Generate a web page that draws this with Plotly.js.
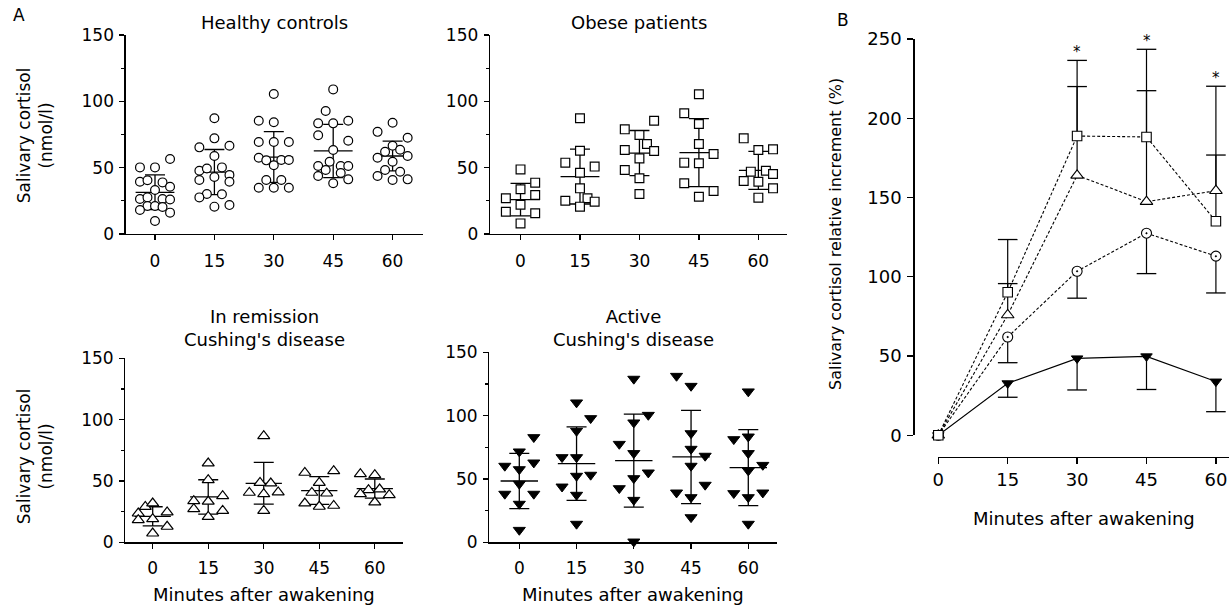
<!DOCTYPE html>
<html><head><meta charset="utf-8">
<script src="https://cdn.plot.ly/plotly-3.0.1.min.js"></script>
<style>html,body{margin:0;padding:0;background:#fff;}#chart{width:1229px;height:613px;}</style>
</head><body><div id="chart"></div>
<script>
// ---------- DATA ----------
const minutes = [0, 15, 30, 45, 60];
const minuteLabels = ['0', '15', '30', '45', '60'];
const yTicksA = [0, 50, 100, 150];
const yTicksB = [0, 50, 100, 150, 200, 250];

// Panel A – individual salivary cortisol values (nmol/l), one list per time point,
// with the column offset (minutes) each dot is drawn at.
const healthyVal = [
  [50.2, 50.2, 56.5, 39.4, 40.5, 38.9, 35.6, 33.2, 26.4, 27.6, 26.4, 26.0, 21.1, 21.1, 20.4, 18.1, 16.1, 9.8],
  [87.2, 72.1, 65.3, 66.5, 58.8, 47.7, 49.4, 50.2, 44.5, 40.7, 39.4, 43.0, 30.1, 29.9, 27.6, 20.6, 21.8],
  [105.5, 85.4, 84.2, 69.3, 69.3, 69.3, 57.5, 55.5, 55.8, 55.8, 51.8, 40.7, 40.7, 34.9, 34.9, 34.9],
  [109.0, 92.7, 83.4, 83.4, 85.4, 74.4, 70.3, 63.3, 54.5, 51.2, 48.2, 51.2, 51.2, 43.7, 46.0, 41.2, 38.2],
  [83.9, 77.0, 72.6, 66.5, 62.0, 63.5, 57.5, 58.8, 54.5, 48.2, 46.9, 43.7, 40.7, 41.2]
];
const healthyOff = [
  [-3.8, 0, 3.8, -3.8, -1.9, 1.9, 3.8, 0, -3.8, -1.9, 1.9, 3.8, -1.9, 0, 1.9, -3.8, 3.8, 0],
  [0, 0, -3.8, 3.8, 0, -3.8, -1.9, 1.9, 3.8, -3.8, 3.8, 0, -1.9, 1.9, -3.8, 0, 3.8],
  [0, -3.8, 0, -3.8, 0, 3.8, -3.8, -1.9, 1.9, 3.8, 0, -1.9, 1.9, -3.8, 0, 3.8],
  [0, -1.9, -3.8, 0, 3.8, -3.8, 3.8, 0, -0.9, -3.8, -1.9, 1.9, 3.8, -3.8, 1.9, 3.8, 0],
  [0, -3.8, 3.8, 0, -1.9, 1.9, -3.8, 3.8, 0, -1.9, 1.9, -3.8, 0, 3.8]
];
const healthyMean = [31.4, 46.7, 58.0, 62.6, 58.8];
const healthySD = [13.1, 17.0, 19.1, 20.1, 11.2];

const obeseVal = [
  [48.7, 38.7, 33.7, 26.9, 29.4, 22.1, 16.8, 15.6, 8.0],
  [87.2, 62.8, 53.8, 50.8, 46.2, 34.4, 25.1, 26.9, 24.4, 20.6],
  [85.4, 78.9, 74.6, 67.8, 63.3, 62.6, 57.0, 48.2, 42.0, 30.2],
  [105.3, 91.0, 82.9, 67.8, 60.3, 53.8, 53.3, 38.2, 32.4, 28.1],
  [72.1, 63.3, 63.8, 47.0, 47.7, 45.2, 40.0, 39.4, 34.4, 27.4]
];
const obeseOff = [
  [0, 3.7, 0, -3.7, 3.7, 0, -3.7, 3.7, 0],
  [0, 0, -3.7, 3.7, 0, 0, -3.7, 1.9, 3.7, 0],
  [3.7, -3.7, 0, 1.9, -3.7, 3.7, 0, -3.7, 0, 0],
  [0, -3.7, 0, 0, 3.7, -3.7, 0, -3.7, 3.7, 0],
  [-3.7, 0, 3.7, -1.9, 1.9, 3.7, -3.7, 0, 3.7, 0]
];
const obeseMean = [25.9, 43.3, 61.0, 61.3, 48.0];
const obeseSD = [12.3, 20.7, 17.0, 25.6, 14.3];

const remissionVal = [
  [29.0, 31.8, 23.6, 24.5, 18.2, 19.0, 12.8, 7.3],
  [64.4, 50.8, 33.7, 33.2, 37.8, 27.2, 25.8, 20.9],
  [86.7, 48.6, 48.1, 40.5, 39.4, 40.8, 25.8],
  [56.8, 58.2, 48.6, 40.5, 39.9, 31.8, 29.1, 29.9],
  [55.7, 54.9, 42.7, 43.2, 39.4, 38.6, 32.6]
];
const remissionOff = [
  [-2, 0, -3.9, 3.9, -3.9, 0, 3.9, 0],
  [0, 0, -3.9, 0, 3.9, -3.9, 3.9, 0],
  [0, -1, 1.9, -3.9, 0, 3.9, 0],
  [-3.9, 3.9, 0, -2, 2, -3.9, 0, 3.9],
  [-3.9, 0, -1.7, 1.3, -3.9, 3.9, 0]
];
const remissionMean = [21.2, 37.0, 48.1, 42.2, 43.8];
const remissionSD = [7.8, 14.0, 17.0, 11.3, 7.8];

const activeVal = [
  [82.9, 71.6, 60.3, 57.6, 62.9, 46.1, 38.2, 38.2, 30.3, 9.7],
  [110.3, 97.9, 87.9, 67.1, 67.1, 52.4, 43.9, 53.2, 37.4, 14.5],
  [129.0, 100.5, 94.5, 77.6, 70.3, 55.0, 50.5, 42.6, 33.4, 0.5],
  [131.3, 123.4, 86.0, 73.7, 68.2, 60.3, 39.2, 35.5, 45.3, 19.7],
  [119.0, 81.3, 83.4, 70.3, 61.0, 56.6, 38.7, 39.2, 35.5, 14.5]
];
const activeOff = [
  [3.8, 0, -3.8, 0, 3.8, 0, -3.8, 3.8, 0, 0],
  [0, 3.7, 0, -3.8, 0, 0, -3.8, 3.7, 0, 0],
  [0, 3.8, 0, -3.8, 0, 3.8, 0, -3.8, 0, 0],
  [-3.8, 0, 0, 0, 3.7, 0, -3.8, 0, 3.7, 0],
  [0, -3.8, 0, 0, 3.8, 0, -3.8, 3.8, 0, 0]
];
const activeMean = [48.4, 62.1, 64.5, 67.4, 59.0];
const activeSD = [21.8, 29.0, 36.7, 36.8, 30.0];

// Panel B – relative increment (%) with one-sided error bars
const incHealthy = [0, 62.0, 103.5, 127.5, 113.0];
const incHealthyErrMinus = [0, 16.2, 17.0, 25.5, 23.2];
const incObese = [0, 90.2, 188.8, 188.2, 135.0];
const incObeseErrPlus = [0, 33.3, 47.7, 55.3, 85.2];
const incRemission = [0, 75.9, 164.0, 147.4, 154.3];
const incRemissionErrPlus = [0, 19.8, 56.0, 70.0, 22.5];
const incActive = [0, 32.8, 48.5, 49.8, 33.9];
const incActiveErrMinus = [0, 8.8, 19.9, 20.9, 19.0];
const starMinutes = [30, 45, 60];

// ---------- LAYOUT HELPERS ----------
const W = 1229, H = 613;
const px = p => p / W;
const py = p => 1 - p / H;
const FONT = 'DejaVu Sans, Verdana, sans-serif';
const BLACK = '#000';

const traces = [];

function panelA(val, off, mean, sd, xa, ya, marker) {
  traces.push({
    x: minutes, y: mean, xaxis: xa, yaxis: ya, mode: 'markers',
    marker: {size: 2, opacity: 0}, hoverinfo: 'skip', cliponaxis: false,
    error_y: {type: 'data', array: sd, visible: true, color: BLACK, thickness: 1.3, width: 10},
    error_x: {type: 'constant', value: 4.9, visible: true, color: BLACK, thickness: 1.3, width: 0}
  });
  const xs = [], ys = [];
  minutes.forEach((m, i) => val[i].forEach((v, j) => { xs.push(m + off[i][j]); ys.push(v); }));
  traces.push({x: xs, y: ys, xaxis: xa, yaxis: ya, mode: 'markers', cliponaxis: false, marker: marker});
}

panelA(healthyVal, healthyOff, healthyMean, healthySD, 'x', 'y',
  {symbol: 'circle', size: 8.8, color: '#fff', line: {color: BLACK, width: 1.2}});
panelA(obeseVal, obeseOff, obeseMean, obeseSD, 'x2', 'y2',
  {symbol: 'square', size: 8.8, color: '#fff', line: {color: BLACK, width: 1.2}});
panelA(remissionVal, remissionOff, remissionMean, remissionSD, 'x3', 'y3',
  {symbol: 'triangle-up', size: 10.5, color: '#fff', line: {color: BLACK, width: 1.2}});
panelA(activeVal, activeOff, activeMean, activeSD, 'x4', 'y4',
  {symbol: 'triangle-down', size: 10.5, color: BLACK, line: {color: BLACK, width: 1}});

// Panel B error bars (one-sided)
function errBars(vals, errs, sign) {
  const xs = [], ys = [], cx = [], cy = [];
  minutes.forEach((m, i) => {
    if (errs[i] > 0) {
      const end = vals[i] + sign * errs[i];
      xs.push(m, m, null); ys.push(vals[i], end, null);
      cx.push(m); cy.push(end);
    }
  });
  traces.push({x: xs, y: ys, xaxis: 'x5', yaxis: 'y5', mode: 'lines',
    line: {color: BLACK, width: 1.2}, hoverinfo: 'skip', cliponaxis: false});
  traces.push({x: cx, y: cy, xaxis: 'x5', yaxis: 'y5', mode: 'markers', cliponaxis: false,
    marker: {symbol: 'line-ew', size: 14, color: BLACK, line: {color: BLACK, width: 1.3}}, hoverinfo: 'skip'});
}
errBars(incObese, incObeseErrPlus, 1);
errBars(incRemission, incRemissionErrPlus, 1);
errBars(incHealthy, incHealthyErrMinus, -1);
errBars(incActive, incActiveErrMinus, -1);

function seriesB(vals, dash, marker) {
  traces.push({x: minutes, y: vals, xaxis: 'x5', yaxis: 'y5', mode: 'lines+markers', cliponaxis: false,
    line: {color: BLACK, width: 1.1, dash: dash}, marker: marker});
}
seriesB(incActive, 'solid', {symbol: 'triangle-down', size: 10, color: BLACK, line: {color: BLACK, width: 1}});
seriesB(incHealthy, '3px,2px', {symbol: 'circle-dot', size: 10, color: '#fff', line: {color: BLACK, width: 1.1}});
seriesB(incRemission, '3px,2px', {symbol: 'triangle-up', size: 11, color: '#fff', line: {color: BLACK, width: 1.1}});
seriesB(incObese, '3px,2px', {symbol: 'square', size: 9.5, color: '#fff', line: {color: BLACK, width: 1.1}});

// ---------- AXES ----------
const tickFontA = {family: FONT, size: 17, color: BLACK};
function xAxisA(d0, d1, range, anchor, standoff) {
  return {domain: [px(d0), px(d1)], range: range, anchor: anchor, showline: true, linecolor: BLACK,
    linewidth: 1.3, ticks: 'outside', ticklen: 5, tickwidth: 1.3, tickcolor: BLACK,
    tickmode: 'array', tickvals: minutes, ticktext: minuteLabels, tickfont: tickFontA,
    ticklabelstandoff: standoff,
    showgrid: false, zeroline: false, fixedrange: true};
}
function yAxisA(top, bottom, anchor) {
  return {domain: [py(bottom), py(top)], range: [0, 150], anchor: anchor, showline: true, linecolor: BLACK,
    linewidth: 1.3, ticks: 'outside', ticklen: 5, tickwidth: 1.3, tickcolor: BLACK,
    tickmode: 'array', tickvals: yTicksA, tickfont: tickFontA, showgrid: false, zeroline: false,
    ticklabelstandoff: 2,
    minor: {tickmode: 'array', tickvals: [25, 75, 125], ticks: 'outside', ticklen: 3, tickwidth: 1.2,
      tickcolor: BLACK, showgrid: false}, fixedrange: true};
}

const annFont = (s) => ({family: FONT, size: s, color: BLACK});
function ann(text, x, y, size, extra) {
  return Object.assign({text: text, x: px(x), y: py(y), xref: 'paper', yref: 'paper',
    xanchor: 'center', yanchor: 'middle', showarrow: false, font: annFont(size)}, extra || {});
}

const obeseTop = incObese.map((v, i) => v + incObeseErrPlus[i]);
const annotations = [
  ann('A', 19, 15, 17),
  ann('B', 843, 20, 17),
  ann('Healthy controls', 274, 23, 18),
  ann('Obese patients', 638.7, 23, 18),
  ann('In remission<br>Cushing\'s disease', 264.3, 328, 18),
  ann('Active<br>Cushing\'s disease', 633.3, 328, 18),
  ann('Salivary cortisol<br>(nmol/l)', 35.3, 135, 17, {textangle: -90}),
  ann('Salivary cortisol<br>(nmol/l)', 35.3, 456, 17, {textangle: -90}),
  ann('Minutes after awakening', 264.3, 594, 18),
  ann('Minutes after awakening', 633.3, 594, 18),
  ann('Minutes after awakening', 1084, 518, 18),
  ann('Salivary cortisol relative increment (%)', 835, 234, 16, {textangle: -90})
];
starMinutes.forEach(m => {
  const i = minutes.indexOf(m);
  annotations.push({text: '*', x: m, y: obeseTop[i], xref: 'x5', yref: 'y5', xanchor: 'center',
    yanchor: 'bottom', yshift: -3, showarrow: false, font: annFont(15)});
});

const tickFontB = {family: FONT, size: 18, color: BLACK};
const layout = {
  width: W, height: H, margin: {l: 0, r: 0, t: 0, b: 0}, paper_bgcolor: '#fff', plot_bgcolor: 'rgba(0,0,0,0)',
  showlegend: false, font: {family: FONT, color: BLACK},
  xaxis: xAxisA(125.7, 422.7, [-7.4, 67.6], 'y', 6),
  yaxis: yAxisA(35, 234, 'x'),
  xaxis2: xAxisA(490, 787.3, [-7.7, 67.3], 'y2', 6),
  yaxis2: yAxisA(35, 234, 'x2'),
  xaxis3: xAxisA(125.3, 403.3, [-7.4, 67.7], 'y3', 5),
  yaxis3: yAxisA(358.3, 542.3, 'x3'),
  xaxis4: xAxisA(489.3, 777.3, [-7.86, 67.6], 'y4', 5),
  yaxis4: yAxisA(352.3, 542.3, 'x4'),
  xaxis5: {domain: [px(938.3), 1], range: [0, 62.83], anchor: 'free', position: py(456.7),
    showline: true, linecolor: BLACK, linewidth: 1.3, ticks: 'outside', ticklen: 6, tickwidth: 1.3,
    tickcolor: BLACK, tickmode: 'array', tickvals: minutes, ticktext: minuteLabels, tickfont: tickFontB,
    showgrid: false, zeroline: false, fixedrange: true},
  yaxis5: {domain: [py(435.3), py(39)], range: [0, 250], anchor: 'free', position: px(913.3),
    showline: true, linecolor: BLACK, linewidth: 1.3, ticks: 'outside', ticklen: 6, tickwidth: 1.3,
    tickcolor: BLACK, tickmode: 'array', tickvals: yTicksB, tickfont: tickFontB, ticklabelstandoff: 2,
    showgrid: false, zeroline: false, fixedrange: true},
  annotations: annotations
};

Plotly.newPlot('chart', traces, layout, {staticPlot: true, displayModeBar: false});
</script>
</body></html>
